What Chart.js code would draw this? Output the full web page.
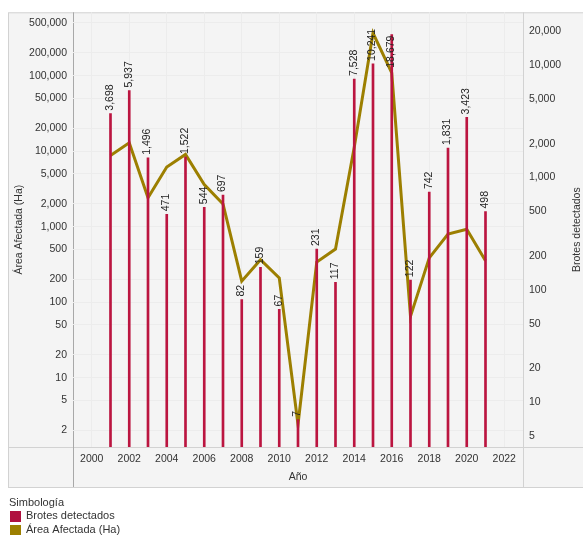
<!DOCTYPE html>
<html>
<head>
<meta charset="utf-8">
<script src="https://cdn.jsdelivr.net/npm/chart.js@4/dist/chart.umd.min.js"></script>
<style>
    html, body { margin: 0; padding: 0; background: #fff; }
    canvas { display: block; }
</style>
</head>
<body>
<canvas id="myChart" width="583" height="535"></canvas>
<script>
const years = [2001, 2002, 2003, 2004, 2005, 2006, 2007, 2008, 2009, 2010, 2011,
    2012, 2013, 2014, 2015, 2016, 2017, 2018, 2019, 2020, 2021];
const brotes = [3698, 5937, 1496, 471, 1522, 544, 697, 82, 159, 67, 7,
    231, 117, 7528, 10241, 18679, 122, 742, 1831, 3423, 498];
const area = [8770, 12900, 2410, 6160, 9050, 3620, 2000, 190, 366, 210, 2.4,
    341, 506, 11300, 366000, 109000, 65, 386, 797, 925, 355];
const areaTicks = [2, 5, 10, 20, 50, 100, 200, 500, 1000, 2000, 5000, 10000,
    20000, 50000, 100000, 200000, 500000];
const brotesTicks = [5, 10, 20, 50, 100, 200, 500, 1000, 2000, 5000, 10000, 20000];
const yearTicks = [2000, 2002, 2004, 2006, 2008, 2010, 2012, 2014, 2016, 2018, 2020, 2022];

const FONT = '"Liberation Sans", Arial, sans-serif';
const FSIZE = 10.5;
const TEXT = '#333333';
const RED = '#bb1540';
const OLIVE = '#9c7f00';

function loadChart() {
    const ctx = document.getElementById('myChart');

    // background panels and separator lines
    const framePlugin = {
        id: 'frame',
        beforeDraw(chart) {
            const c = chart.ctx;
            const a = chart.chartArea;
            const left = chart.scales.yL.left;
            const bottom = chart.scales.x.bottom;
            c.save();
            c.fillStyle = '#ffffff';
            c.fillRect(0, 0, chart.width, chart.height);
            c.fillStyle = '#f4f4f4';
            c.fillRect(left, a.top, chart.width - left, bottom - a.top);
            c.lineWidth = 1;
            c.strokeStyle = '#d2d2d2';
            c.strokeRect(left + 0.5, a.top + 0.5, chart.width - left, bottom - a.top);
            c.beginPath();
            c.moveTo(left, a.bottom + 0.5);
            c.lineTo(chart.width, a.bottom + 0.5);
            c.moveTo(a.right + 0.5, a.top);
            c.lineTo(a.right + 0.5, bottom);
            c.stroke();
            c.strokeStyle = '#a8a8a8';
            c.beginPath();
            c.moveTo(a.left + 0.5, a.top);
            c.lineTo(a.left + 0.5, bottom);
            c.stroke();
            c.restore();
        }
    };

    // rotated value labels above the bars, titles and legend
    const labelPlugin = {
        id: 'labels',
        afterDatasetsDraw(chart) {
            const c = chart.ctx;
            const a = chart.chartArea;
            const meta = chart.getDatasetMeta(0);
            c.save();
            c.font = FSIZE + 'px ' + FONT;
            c.fillStyle = '#222222';
            c.textAlign = 'left';
            c.textBaseline = 'middle';
            meta.data.forEach((bar, i) => {
                const txt = brotes[i].toLocaleString('en-US');
                const w = c.measureText(txt).width;
                let y0 = bar.y - 3;
                if (y0 - w < a.top) y0 = bar.y + w + 1;
                c.save();
                c.translate(bar.x - 0.5, y0);
                c.rotate(-Math.PI / 2);
                c.fillText(txt, 0, 0);
                c.restore();
            });
            c.restore();
        },
        afterDraw(chart) {
            const c = chart.ctx;
            const a = chart.chartArea;
            const midY = (a.top + a.bottom) / 2;
            c.save();
            c.font = FSIZE + 'px ' + FONT;
            c.fillStyle = TEXT;
            c.textAlign = 'center';
            c.textBaseline = 'middle';
            c.fillText('Año', (a.left + a.right) / 2, a.bottom + 30);

            c.save();
            c.translate(chart.scales.yL.left + 11, midY);
            c.rotate(-Math.PI / 2);
            c.fillText('Área Afectada (Ha)', 0, 0);
            c.restore();

            c.save();
            c.translate(a.right + 54, midY);
            c.rotate(-Math.PI / 2);
            c.fillText('Brotes detectados', 0, 0);
            c.restore();

            c.textAlign = 'left';
            c.font = '11px ' + FONT;
            c.fillText('Simbología', 9, 503);
            chart.data.datasets.forEach((ds, i) => {
                const y = 516 + i * 14;
                c.fillStyle = ds.legendColor;
                c.fillRect(10, y - 5, 11, 11);
                c.fillStyle = TEXT;
                c.fillText(ds.label, 26, y);
            });
            c.restore();
        }
    };

    const data = {
        datasets: [{
            type: 'bar',
            label: 'Brotes detectados',
            data: years.map((y, i) => ({ x: y, y: brotes[i] })),
            yAxisID: 'yR',
            backgroundColor: RED,
            legendColor: '#b0103f',
            barThickness: 2,
            order: 0
        }, {
            type: 'line',
            label: 'Área Afectada (Ha)',
            data: years.map((y, i) => ({ x: y, y: area[i] })),
            yAxisID: 'yL',
            borderColor: OLIVE,
            legendColor: '#9c7f00',
            borderWidth: 3,
            pointRadius: 0,
            tension: 0,
            order: 1
        }]
    };

    const tickFont = { family: FONT, size: FSIZE };

    const myChart = new Chart(ctx, {
        type: 'bar',
        data: data,
        plugins: [framePlugin, labelPlugin],
        options: {
            responsive: false,
            animation: false,
            layout: {
                padding: { left: 8, top: 11, right: 0, bottom: 48 }
            },
            plugins: {
                legend: { display: false },
                tooltip: { enabled: false }
            },
            scales: {
                x: {
                    type: 'linear',
                    min: 1999,
                    max: 2023,
                    offset: false,
                    afterBuildTicks: s => { s.ticks = yearTicks.map(v => ({ value: v })); },
                    afterFit: s => { s.height = 40; },
                    ticks: {
                        callback: v => String(v),
                        font: tickFont,
                        color: TEXT,
                        padding: 6,
                        maxRotation: 0,
                        autoSkip: false
                    },
                    grid: { color: '#ececec', drawTicks: false, offset: false },
                    border: { display: false }
                },
                yL: {
                    type: 'logarithmic',
                    position: 'left',
                    min: 1.21,
                    max: 690000,
                    afterBuildTicks: s => { s.ticks = areaTicks.map(v => ({ value: v })); },
                    afterFit: s => { s.width = 65; },
                    ticks: {
                        callback: v => v.toLocaleString('en-US'),
                        font: tickFont,
                        color: TEXT,
                        padding: 6,
                        autoSkip: false
                    },
                    grid: { color: '#ececec', drawTicks: false },
                    border: { display: false }
                },
                yR: {
                    type: 'logarithmic',
                    position: 'right',
                    min: 4,
                    max: 29500,
                    afterBuildTicks: s => { s.ticks = brotesTicks.map(v => ({ value: v })); },
                    afterFit: s => { s.width = 60; },
                    ticks: {
                        callback: v => v.toLocaleString('en-US'),
                        font: tickFont,
                        color: TEXT,
                        padding: 6,
                        autoSkip: false
                    },
                    grid: { display: false, drawTicks: false },
                    border: { display: false }
                }
            }
        }
    });
}

loadChart();
</script>
</body>
</html>
